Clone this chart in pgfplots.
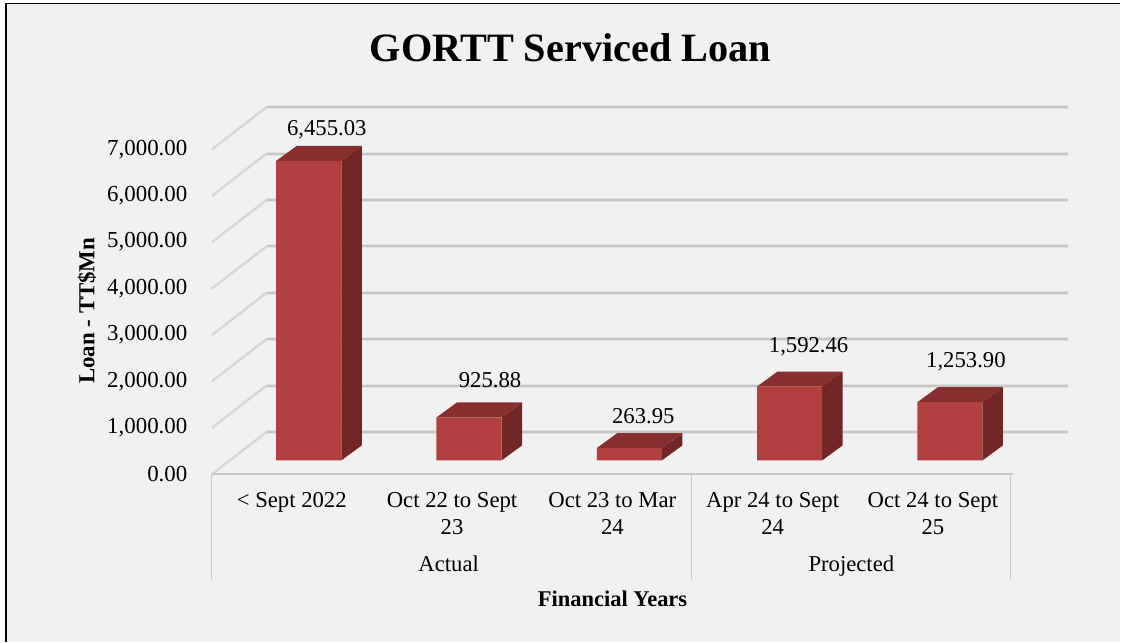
\documentclass[border=0pt]{standalone}
\usepackage{fontspec}
\setmainfont{Liberation Serif}
\usepackage{pgfplots}
\pgfplotsset{compat=1.18}
\definecolor{bgc}{HTML}{F1F1F1}
\definecolor{front}{HTML}{B34040}
\definecolor{sidec}{HTML}{722626}
\definecolor{topc}{HTML}{872E2E}
\definecolor{gridd}{HTML}{C6C6C6}
\definecolor{gridl}{HTML}{E2E2E2}
\definecolor{sepc}{HTML}{C8C8C8}
\begin{document}
\begin{tikzpicture}[x=1pt,y=1pt]
\fill[white] (0,0) rectangle (1121,642);
\fill[bgc] (6,0) rectangle (1121,638.5);
\draw[black,line width=1.6pt] (6.2,0) -- (6.2,638.4) -- (1121,638.4);
\begin{axis}[
  at={(212pt,167.4pt)}, anchor=south west,
  scale only axis, width=802pt, height=367.3pt,
  xmin=-0.6047, xmax=4.3953, ymin=-299.4, ymax=7612,
  clip=false,
  axis line style={draw=none},
  tick style={draw=none},
  major tick length=0pt,
  unbounded coords=jump,
  title={\fontsize{40.3}{44}\selectfont\bfseries GORTT Serviced Loan},
  title style={at={(axis description cs:0.4476,1.145)},anchor=center},
  xlabel={\fontsize{22.5}{26}\selectfont\bfseries Financial Years},
  xlabel style={at={(axis description cs:0.5,-0.3387)},anchor=center},
  ylabel={\fontsize{22.9}{26}\selectfont\bfseries Loan - TT\$Mn},
  ylabel style={at={(axis description cs:-0.1559,0.4454)},anchor=center,rotate=0},
  ytick={0,1000,...,7000},
  /pgf/number format/assume math mode=true,
  /pgf/number format/fixed, /pgf/number format/fixed zerofill,
  /pgf/number format/precision=2, /pgf/number format/1000 sep={,},
  yticklabel style={font=\fontsize{22.9}{26}\selectfont, anchor=east, xshift=-21pt, yshift=-13.6pt},
  xtick={0,1,2,3,4},
  xticklabels={{< Sept 2022},{Oct 22 to Sept\\23},{Oct 23 to Mar\\24},{Apr 24 to Sept\\24},{Oct 24 to Sept\\25}},
  xticklabel style={font=\fontsize{22.7}{26.5}\selectfont, align=center, anchor=north, xshift=-17pt, yshift=-15pt},
]
% back wall grid lines (halo, then core)
\addplot[forget plot,line width=4pt,color=gridl] coordinates {
 (-0.2637,612)(4.7344,612)(4.7344,nan)
 (-0.2637,1612)(4.7344,1612)(4.7344,nan)
 (-0.2637,2612)(4.7344,2612)(4.7344,nan)
 (-0.2637,3612)(4.7344,3612)(4.7344,nan)
 (-0.2637,4612)(4.7344,4612)(4.7344,nan)
 (-0.2637,5612)(4.7344,5612)(4.7344,nan)
 (-0.2637,6612)(4.7344,6612)(4.7344,nan)
 (-0.2637,7612)(4.7344,7612)};
\addplot[forget plot,line width=2pt,color=gridd] coordinates {
 (-0.2637,612)(4.7344,612)(4.7344,nan)
 (-0.2637,1612)(4.7344,1612)(4.7344,nan)
 (-0.2637,2612)(4.7344,2612)(4.7344,nan)
 (-0.2637,3612)(4.7344,3612)(4.7344,nan)
 (-0.2637,4612)(4.7344,4612)(4.7344,nan)
 (-0.2637,5612)(4.7344,5612)(4.7344,nan)
 (-0.2637,6612)(4.7344,6612)(4.7344,nan)
 (-0.2637,7612)(4.7344,7612)};
% side wall diagonals
\addplot[forget plot,line width=2.4pt,color=gridd!60!bgc] coordinates {
 (-0.6047,-299)(-0.2637,612)(-0.2637,nan)
 (-0.6047,701)(-0.2637,1612)(-0.2637,nan)
 (-0.6047,1701)(-0.2637,2612)(-0.2637,nan)
 (-0.6047,2701)(-0.2637,3612)(-0.2637,nan)
 (-0.6047,3701)(-0.2637,4612)(-0.2637,nan)
 (-0.6047,4701)(-0.2637,5612)(-0.2637,nan)
 (-0.6047,5701)(-0.2637,6612)(-0.2637,nan)
 (-0.6047,6701)(-0.2637,7612)};
% floor front edge and category separators
\addplot[forget plot,line width=2.2pt,color=sepc] coordinates {(-0.6047,-299)(4.3953,-299)};
\addplot[forget plot,line width=1.3pt,color=sepc] coordinates {
 (-0.6047,-299)(-0.6047,-2569)(-0.6047,nan)
 (2.388,-299)(2.388,-2569)(2.388,nan)
 (4.376,-299)(4.376,-2569)};
% bar depth faces
\addplot[forget plot,fill=sidec,draw=none] coordinates {(0.2032,0)(0.331,323)(0.331,6778.03)(0.2032,6455.03)} --cycle;
\addplot[forget plot,fill=topc,draw=none] coordinates {(-0.2032,6455.03)(0.2032,6455.03)(0.331,6778.03)(-0.0754,6778.03)} --cycle;
\addplot[forget plot,fill=sidec,draw=none] coordinates {(1.2032,0)(1.331,323)(1.331,1248.88)(1.2032,925.88)} --cycle;
\addplot[forget plot,fill=topc,draw=none] coordinates {(0.7968,925.88)(1.2032,925.88)(1.331,1248.88)(0.9246,1248.88)} --cycle;
\addplot[forget plot,fill=sidec,draw=none] coordinates {(2.2032,0)(2.331,323)(2.331,586.95)(2.2032,263.95)} --cycle;
\addplot[forget plot,fill=topc,draw=none] coordinates {(1.7968,263.95)(2.2032,263.95)(2.331,586.95)(1.9246,586.95)} --cycle;
\addplot[forget plot,fill=sidec,draw=none] coordinates {(3.2032,0)(3.331,323)(3.331,1915.46)(3.2032,1592.46)} --cycle;
\addplot[forget plot,fill=topc,draw=none] coordinates {(2.7968,1592.46)(3.2032,1592.46)(3.331,1915.46)(2.9246,1915.46)} --cycle;
\addplot[forget plot,fill=sidec,draw=none] coordinates {(4.2032,0)(4.331,323)(4.331,1576.90)(4.2032,1253.90)} --cycle;
\addplot[forget plot,fill=topc,draw=none] coordinates {(3.7968,1253.90)(4.2032,1253.90)(4.331,1576.90)(3.9246,1576.90)} --cycle;
% bar fronts
\addplot[ybar,bar width=65.2pt,fill=front,draw=none] coordinates {(0,6455.03)(1,925.88)(2,263.95)(3,1592.46)(4,1253.90)};
% data labels
\tikzset{dl/.style={font=\fontsize{22.7}{26}\selectfont,inner sep=0pt,anchor=center}}
\node[dl,xshift=18pt,yshift=31.5pt] at (axis cs:0,6455.03) {6,455.03};
\node[dl,xshift=21pt,yshift=37pt] at (axis cs:1,925.88) {925.88};
\node[dl,xshift=14pt,yshift=32pt] at (axis cs:2,263.95) {263.95};
\node[dl,xshift=19pt,yshift=39.5pt] at (axis cs:3,1592.46) {1,592.46};
\node[dl,xshift=16pt,yshift=40.5pt] at (axis cs:4,1253.90) {1,253.90};
% group labels
\node[dl,anchor=base] at (axis cs:0.8728,-2397) {Actual};
\node[dl,anchor=base] at (axis cs:3.385,-2397) {Projected};
\end{axis}
\end{tikzpicture}
\end{document}
